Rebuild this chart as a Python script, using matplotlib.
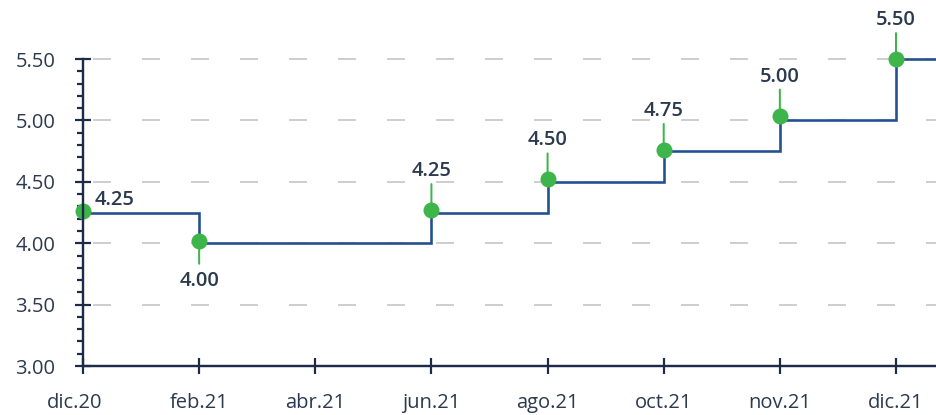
import matplotlib
matplotlib.use("Agg")
import matplotlib.pyplot as plt
import matplotlib.transforms as mtransforms
from matplotlib.ticker import FixedLocator, FuncFormatter

plt.rcParams['font.family'] = ['Open Sans', 'DejaVu Sans']
plt.rcParams['lines.scale_dashes'] = False

# ---- data ----
categories = ["dic.20", "feb.21", "abr.21", "jun.21", "ago.21", "oct.21", "nov.21", "dic.21"]
step_idx = [0, 1, 3, 4, 5, 6, 7]
step_values = [4.25, 4.00, 4.25, 4.50, 4.75, 5.00, 5.50]
marker_values = [4.26, 4.02, 4.27, 4.52, 4.76, 5.04, 5.50]
labels = ["4.25", "4.00", "4.25", "4.50", "4.75", "5.00", "5.50"]
yticks = [3.0, 3.5, 4.0, 4.5, 5.0, 5.5]
yminor = [3.1, 3.2, 3.3, 3.4, 3.6, 3.7, 3.8, 3.9, 4.1, 4.2, 4.3, 4.4,
          4.6, 4.7, 4.8, 4.9, 5.1, 5.2, 5.3, 5.4]

# ---- style ----
navy = "#1b2b48"
line_blue = "#22508f"
green = "#3db54a"
text_c = "#2b3a4e"
grid_c = "#cfcfcf"
fs = 14.5

W, H = 937, 415
fig = plt.figure(figsize=(W / 100, H / 100), dpi=100)
ax_left, ax_bottom, ax_right, ax_top = 83, 366, 937, 10
ax = fig.add_axes([ax_left / W, 1 - ax_bottom / H, (ax_right - ax_left) / W, (ax_bottom - ax_top) / H])

xmax = 7.353
ax.set_xlim(0, xmax)
ax.set_ylim(3.0, 5.9)

# grid
px = 0.72
for y in yticks[1:]:
    ax.axhline(y, color=grid_c, lw=2.0 * px, zorder=1,
               linestyle=(39 * px, (18 * px, 31 * px)))

# step line
xs = step_idx + [ax.get_xlim()[1]]
ys = step_values + [step_values[-1]]
ax.step(xs, ys, where="post", color=line_blue, lw=2.6 * px, zorder=3,
        solid_joinstyle="miter", clip_on=False)

# markers, stems and labels
lab_kw = dict(fontsize=fs, fontweight="semibold", color=text_c, zorder=5,
              annotation_clip=False, textcoords="offset points")
for i, (xi, mv, lab) in enumerate(zip(step_idx, marker_values, labels)):
    if i == 0:
        ax.annotate(lab, (xi, mv), xytext=(12 * px, 11 * px), ha="left", va="center", **lab_kw)
    elif i == 1:
        ax.annotate("", (xi, mv), xytext=(0, -23 * px), textcoords="offset points",
                    arrowprops=dict(arrowstyle="-", color=green, lw=2 * px, shrinkA=0, shrinkB=0),
                    zorder=2, annotation_clip=False)
        ax.annotate(lab, (xi, mv), xytext=(0, -40 * px), ha="center", va="center", **lab_kw)
    else:
        ax.annotate("", (xi, mv), xytext=(0, 26 * px), textcoords="offset points",
                    arrowprops=dict(arrowstyle="-", color=green, lw=2 * px, shrinkA=0, shrinkB=0),
                    zorder=2, annotation_clip=False)
        ax.annotate(lab, (xi, mv), xytext=(0, 39 * px), ha="center", va="center", **lab_kw)

ax.plot(step_idx, marker_values, "o", color=green, markersize=16 * px,
        markeredgewidth=0, zorder=4, clip_on=False)

# spines
for s in ["top", "right"]:
    ax.spines[s].set_visible(False)
for s in ["left", "bottom"]:
    ax.spines[s].set_color(navy)
    ax.spines[s].set_linewidth(2.4 * px)
    ax.spines[s].set_zorder(6)
ax.spines["left"].set_bounds(3.0, 5.5)

# ticks
ax.set_xticks(range(len(categories)))
ax.set_xticklabels(categories)
ax.yaxis.set_major_locator(FixedLocator(yticks))
ax.yaxis.set_minor_locator(FixedLocator(yminor))
ax.yaxis.set_major_formatter(FuncFormatter(lambda v, p: f"{v:.2f}"))
ax.tick_params(axis="both", which="major", direction="inout", length=16 * px,
               width=2.2 * px, color=navy, labelcolor=text_c, labelsize=fs)
ax.tick_params(axis="x", which="major", pad=14)
ax.tick_params(axis="y", which="major", pad=14)
ax.tick_params(axis="y", which="minor", direction="out", length=6 * px,
               width=2.2 * px, color=navy)

first = ax.get_xticklabels()[0]
first.set_transform(first.get_transform() +
                    mtransforms.ScaledTranslation(-8 / 100, 0, fig.dpi_scale_trans))

fig.savefig("out.png", dpi=100)
